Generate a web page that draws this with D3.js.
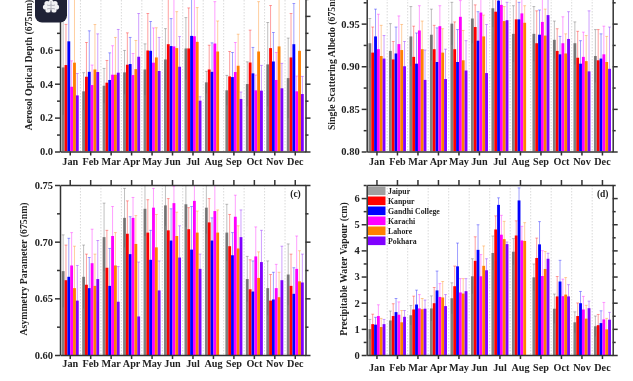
<!DOCTYPE html>
<html>
<head>
  <meta charset="utf-8">
  <title>Monthly aerosol properties</title>
  <script src="https://d3js.org/d3.v7.min.js"></script>
  <style>
    html, body { margin: 0; padding: 0; background: #fff; overflow: hidden; }
    svg { display: block; filter: blur(0.55px); }
    text { font-family: "Liberation Serif", serif; font-weight: bold; fill: #222; }
    .axis path, .axis line { stroke: #333; stroke-width: 1.5; }
    .axis text { font-family: "Liberation Serif", serif; font-weight: bold; fill: #222; }
  </style>
</head>
<body>
<script>
const months = ["Jan","Feb","Mar","Apr","May","Jun","Jul","Aug","Sep","Oct","Nov","Dec"];
const sites = ["Jaipur","Kanpur","Gandhi College","Karachi","Lahore","Pokhara"];
const siteColors = ["#808080","#ff0000","#0000ff","#ff00ff","#ff8000","#8000ff"];
const whiskerColors = ["#555555","#ff0000","#0000ff","#ff00ff","#ff8000","#8000ff"];

// each table: one row per site (same order as sites), one value per month. null = no data
const aodMean = [
  [.496,.355,.388,.467,.484,.543,.608,.408,.361,.398,.514,.433],
  [.510,.441,.406,.512,.596,.633,.608,.484,.443,.525,.610,.555],
  [.650,.470,.422,.516,.594,.622,.682,.470,.439,.461,.531,.633],
  [.382,.392,.453,.451,.524,.620,.680,.637,.469,.361,.422,.355],
  [.524,.484,.453,.486,.555,.610,.647,.590,.506,.590,.620,.594],
  [.331,.469,.465,.559,.475,.500,.300,null,.310,.359,.373,.339]
];
const aodUpper = [
  [.776,.465,.490,.596,.635,.725,.790,.473,.449,.529,.761,.669],
  [.750,.643,.537,.700,.814,.900,.847,.627,.590,.716,.861,.814],
  [.950,.712,.582,.673,.767,.784,.950,.641,.584,.614,.702,.873],
  [.535,.510,.624,.578,.729,.950,.970,.884,.643,.451,.584,.445],
  [.950,.749,.673,.655,.730,.825,.849,.770,.692,.884,.930,.950],
  [.460,.694,.720,.814,.673,.678,.323,null,.351,.508,.520,.443]
];

const ssaMean = [
  [.927,.918,.935,.937,.950,.956,.968,.938,.938,.931,.927,.912],
  [.916,.908,.911,.920,.920,.946,.964,.955,.927,.918,.910,.907],
  [.935,.915,.903,.905,.905,.930,.977,.955,.937,.914,.903,.909],
  [.920,.926,.942,.947,.958,.963,.972,.962,.952,.927,.911,.914],
  [.912,.919,.920,.916,.907,.935,.953,.951,.936,.915,.906,.905],
  [.909,.900,.884,.885,.895,.892,.954,null,.960,.932,.894,.897]
];
const ssaUpper = [
  [.956,.950,.970,.967,.975,.985,.990,.971,.970,.953,.952,.943],
  [.946,.929,.947,.948,.952,.972,.990,.985,.965,.944,.941,.943],
  [.967,.946,.939,.945,.943,.964,.995,.975,.966,.935,.930,.938],
  [.961,.959,.971,.971,.977,.985,.990,.985,.980,.958,.940,.947],
  [.948,.949,.953,.944,.942,.960,.970,.971,.967,.938,.936,.935],
  [.936,.929,.919,.920,.930,.949,.975,null,.985,.964,.965,.946]
];

const gMean = [
  [.674,.669,.704,.721,.729,.732,.733,.730,.708,.667,.659,.671],
  [.666,.662,.677,.707,.708,.710,.711,.717,.696,.658,.648,.661],
  [.669,.659,.661,.689,.684,.701,.693,.701,.688,.656,.649,.654],
  [.679,.681,.705,.721,.730,.734,.736,.727,.722,.687,.659,.676],
  [.659,.661,.679,.698,.695,.705,.708,.708,.694,.668,.651,.665],
  [.648,.667,.647,.634,.657,.686,.676,null,.704,.682,.666,.664]
];
const gUpper = [
  [.706,.697,.734,.747,.753,.750,.753,.753,.733,.687,.683,.698],
  [.697,.689,.710,.736,.737,.738,.730,.738,.724,.684,.671,.689],
  [.703,.686,.694,.722,.710,.729,.731,.721,.708,.683,.673,.677],
  [.708,.711,.731,.739,.747,.749,.755,.753,.741,.713,.680,.705],
  [.696,.689,.708,.723,.724,.726,.727,.728,.714,.691,.673,.692],
  [.679,.701,.678,.682,.683,.714,.689,null,.728,.710,.696,.689]
];

const pwvMean = [
  [.99,1.32,1.52,1.78,2.17,3.01,3.90,3.95,2.97,1.77,1.25,1.10],
  [1.18,1.49,1.74,1.98,2.63,3.60,4.80,4.57,3.71,2.24,1.49,1.14],
  [1.16,1.64,1.93,2.47,3.39,4.02,5.74,5.91,4.23,2.81,1.98,1.22],
  [1.49,1.54,1.78,2.22,2.39,3.01,4.60,4.38,3.02,2.25,1.74,1.36],
  [1.07,1.25,1.75,2.20,2.35,3.41,4.43,4.36,3.29,2.31,1.39,.98],
  [1.18,1.46,1.77,1.87,2.44,3.24,4.24,null,3.68,2.24,1.79,1.35]
];
const pwvUpper = [
  [1.36,1.68,1.89,2.26,2.76,3.68,4.55,4.45,3.48,2.33,1.65,1.49],
  [1.56,1.96,2.25,2.58,3.40,4.52,5.32,5.13,4.47,3.00,1.99,1.55],
  [1.44,2.16,2.48,3.21,4.28,4.98,6.01,6.39,5.10,3.62,2.43,1.69],
  [1.92,2.03,2.31,2.73,2.92,3.84,5.34,4.92,3.99,2.90,2.24,2.01],
  [1.40,1.70,2.16,2.81,2.92,4.17,5.11,5.06,3.96,2.96,1.90,1.40],
  [1.36,1.70,2.10,2.31,2.92,3.68,4.32,null,3.89,2.69,2.06,1.63]
];

const width = 633, height = 381;
const svg = d3.select("body").append("svg").attr("width", width).attr("height", height);

// one panel. top row panels run off the top of the picture, as in the original
function drawPanel(p, i) {
  const x = d3.scaleBand().domain(months).range([p.left, p.left + p.w]);
  const inner = d3.scaleBand().domain(sites).range([-8.5, 8.5]);
  const y = d3.scaleLinear().domain(p.domain).range([p.bottom, p.top]);
  const g = svg.append("g");
  const fmt = d3.format(p.format);

  const clipId = "clip" + i;
  g.append("clipPath").attr("id", clipId).append("rect")
    .attr("x", p.left).attr("y", p.top).attr("width", p.w).attr("height", p.bottom - p.top);

  // dotted month separators
  g.append("g").selectAll("line").data(months.slice(1)).join("line")
    .attr("x1", d => x(d)).attr("x2", d => x(d))
    .attr("y1", p.top).attr("y2", p.bottom)
    .attr("stroke", "#d0d0d0").attr("stroke-width", 0.8).attr("stroke-dasharray", "1.5,1.5");

  const marks = g.append("g").attr("clip-path", "url(#" + clipId + ")");
  sites.forEach((site, s) => {
    months.forEach((m, k) => {
      const v = p.mean[s][k], up = p.upper[s][k];
      if (v === null) return;
      const cx = x(m) + x.bandwidth() / 2 + inner(site);
      marks.append("rect")
        .attr("x", cx).attr("width", inner.bandwidth())
        .attr("y", y(v)).attr("height", p.bottom - y(v))
        .attr("fill", siteColors[s]);
      const mid = cx + inner.bandwidth() / 2;
      const low = v - (up - v);
      const err = marks.append("g").attr("stroke", whiskerColors[s])
        .attr("stroke-width", 0.9).attr("stroke-opacity", 0.42);
      err.append("line").attr("x1", mid).attr("x2", mid).attr("y1", y(up)).attr("y2", y(low));
      err.append("line").attr("x1", mid - 1.4).attr("x2", mid + 1.4).attr("y1", y(up)).attr("y2", y(up));
    });
  });

  // axes
  const majors = p.major, minors = p.minor;
  const all = majors.concat(minors);
  const left = g.append("g").attr("class", "axis").attr("transform", "translate(" + p.left + ",0)")
    .call(d3.axisLeft(y).tickValues(all).tickSize(5).tickSizeOuter(0)
      .tickFormat(d => majors.includes(d) && y(d) > 0 ? fmt(d) : ""));
  const right = g.append("g").attr("class", "axis").attr("transform", "translate(" + (p.left + p.w) + ",0)")
    .call(d3.axisRight(y).tickValues(all).tickSize(5).tickSizeOuter(0).tickFormat(""));
  [left, right].forEach(a => a.selectAll(".tick").filter(d => minors.includes(d))
    .select("line").attr("x2", a === left ? -3 : 3));
  left.selectAll("text").attr("font-size", 10.5).attr("x", -7);

  const bottom = g.append("g").attr("class", "axis").attr("transform", "translate(0," + p.bottom + ")")
    .call(d3.axisBottom(x).tickSize(4).tickSizeOuter(0));
  bottom.selectAll("text").attr("font-size", 10.2).attr("y", p.labelGap);
  g.append("g").attr("class", "axis").attr("transform", "translate(0," + p.top + ")")
    .call(d3.axisTop(x).tickSize(5).tickSizeOuter(0).tickFormat(""));

  g.append("text")
    .attr("transform", "translate(" + p.titleX + "," + p.titleY + ") rotate(-90)")
    .attr("text-anchor", "middle").attr("font-size", 9.8)
    .text(p.title);

  if (p.tag) {
    g.append("text").attr("x", p.left + p.w - 10).attr("y", p.top + 12)
      .attr("text-anchor", "middle").attr("font-size", 9.5).text(p.tag);
  }
}

const panels = [
  { mean: aodMean, upper: aodUpper, domain: [0, 1], major: [0, .2, .4, .6, .8, 1], minor: [.1, .3, .5, .7, .9],
    format: ".1f", left: 60, w: 245.5, top: -18, bottom: 151.5, labelGap: 6.5,
    title: "Aerosol Optical Depth (675nm)", titleX: 32, titleY: 65 },
  { mean: ssaMean, upper: ssaUpper, domain: [.8, 1], major: [.8, .85, .9, .95, 1], minor: [.825, .875, .925, .975],
    format: ".2f", left: 366.7, w: 246, top: -19, bottom: 151.5, labelGap: 6.5,
    title: "Single Scattering Albedo (675nm)", titleX: 335, titleY: 60 },
  { mean: gMean, upper: gUpper, domain: [.6, .75], major: [.6, .65, .7, .75], minor: [.625, .675, .725],
    format: ".2f", left: 60, w: 245.5, top: 185, bottom: 355, labelGap: 5,
    title: "Asymmetry Parameter (675nm)", titleX: 27, titleY: 269, tag: "(c)" },
  { mean: pwvMean, upper: pwvUpper, domain: [0, 6.5], major: [0, 1, 2, 3, 4, 5, 6], minor: [.5, 1.5, 2.5, 3.5, 4.5, 5.5, 6.5],
    format: "d", left: 366.7, w: 246, top: 185, bottom: 355, labelGap: 9,
    title: "Precipitable Water Vapour (cm)", titleX: 347, titleY: 269, tag: "(d)" }
];
panels.forEach(drawPanel);

// legend inside panel d
const legend = svg.append("g").attr("transform", "translate(368,186.5)");
sites.forEach((site, s) => {
  const row = legend.append("g").attr("transform", "translate(0," + (s * 10) + ")");
  row.append("rect").attr("width", 17.5).attr("height", 8.6)
    .attr("fill", s === 0 ? "#a0a0a0" : siteColors[s]);
  row.append("text").attr("x", 20).attr("y", 7).attr("font-size", 7.8).text(site);
});

// badge over the top left corner
const badge = svg.append("g");
badge.append("rect").attr("x", 35).attr("y", -12).attr("width", 32).attr("height", 34.5)
  .attr("rx", 7).attr("fill", "#1f2236");
const lobes = [[47,3.5,2.6],[51,2.5,2.6],[55,3.5,2.6],[45.5,7,2.6],[56.5,7,2.6],[48,10,2.6],[54,10,2.6],[51,6.5,3.5]];
badge.append("g").selectAll("circle").data(lobes).join("circle")
  .attr("cx", d => d[0]).attr("cy", d => d[1]).attr("r", d => d[2]).attr("fill", "#f2f2f4");
badge.append("path").attr("d", "M51 1V12.5M47 5q2 1 4 0M55 5q-2 1 -4 0M47 9q2 -1 4 0M55 9q-2 -1 -4 0")
  .attr("fill", "none").attr("stroke", "#8a8c99").attr("stroke-width", 0.6);
</script>
</body>
</html>
